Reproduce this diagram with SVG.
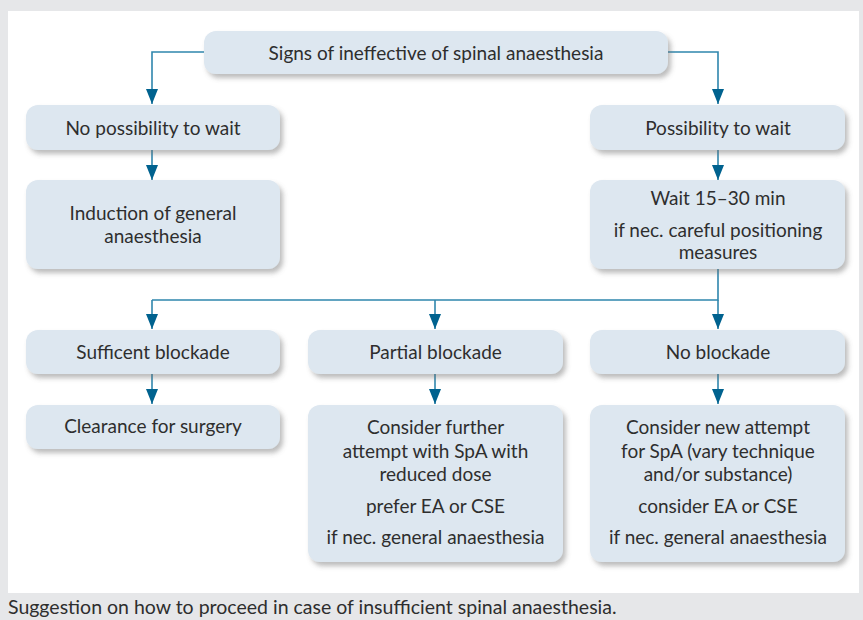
<svg xmlns="http://www.w3.org/2000/svg" width="863" height="620" viewBox="0 0 863 620">
<defs>
<filter id="sh" x="-10%" y="-20%" width="130%" height="150%">
<feDropShadow dx="3" dy="4" stdDeviation="2.5" flood-color="#6b6b6b" flood-opacity="0.45"/>
</filter>
<marker id="ah" markerWidth="15" markerHeight="12" refX="15" refY="6" orient="auto" markerUnits="userSpaceOnUse" viewBox="0 0 15 12">
<path d="M0,0 L15,6 L0,12 Z" fill="#00628f"/>
</marker>
<style>
.box{fill:#dde7f0;filter:url(#sh);}
.t{font-family:Lato,"Open Sans",sans-serif;font-size:19px;fill:#2e2e2e;text-anchor:middle;}
.c{fill:none;stroke:#2f86ad;stroke-width:1.6;}
.ca{fill:none;stroke:#2f86ad;stroke-width:1.6;marker-end:url(#ah);}
</style>
</defs>
<rect x="0" y="0" width="863" height="620" fill="#e6e7e9"/>
<rect x="8" y="11" width="851" height="582" fill="#ffffff"/>

<g id="connectors">
<path class="ca" d="M204,52 H152 V104"/>
<path class="ca" d="M668,52 H718 V104"/>
<path class="ca" d="M152,150 V180"/>
<path class="ca" d="M718,150 V180"/>
<path class="c" d="M718,269 V300 H152"/>
<path class="ca" d="M152,300 V329"/>
<path class="ca" d="M435,300 V329"/>
<path class="ca" d="M718,300 V329"/>
<path class="ca" d="M152,374 V404"/>
<path class="ca" d="M435,374 V404"/>
<path class="ca" d="M718,374 V404"/>
</g>

<g id="n-top">
<rect class="box" x="204" y="31" width="464" height="43" rx="12"/>
<text class="t" x="436" y="60">Signs of ineffective of spinal anaesthesia</text>
</g>
<g id="n-nowait">
<rect class="box" x="26" y="105" width="254" height="45" rx="12"/>
<text class="t" x="153" y="135">No possibility to wait</text>
</g>
<g id="n-wait">
<rect class="box" x="590" y="105" width="255" height="45" rx="12"/>
<text class="t" x="718" y="135">Possibility to wait</text>
</g>
<g id="n-induction">
<rect class="box" x="26" y="180" width="254" height="89" rx="12"/>
<text class="t" x="153" y="220">Induction of general</text>
<text class="t" x="153" y="243">anaesthesia</text>
</g>
<g id="n-wait15">
<rect class="box" x="590" y="180" width="255" height="89" rx="12"/>
<text class="t" x="718" y="205">Wait 15–30 min</text>
<text class="t" x="718" y="237">if nec. careful positioning</text>
<text class="t" x="718" y="259">measures</text>
</g>
<g id="n-sufficient">
<rect class="box" x="26" y="330" width="254" height="44" rx="12"/>
<text class="t" x="153" y="359">Sufficent blockade</text>
</g>
<g id="n-partial">
<rect class="box" x="308" y="330" width="255" height="44" rx="12"/>
<text class="t" x="435.5" y="359">Partial blockade</text>
</g>
<g id="n-noblock">
<rect class="box" x="590" y="330" width="255" height="44" rx="12"/>
<text class="t" x="718" y="359">No blockade</text>
</g>
<g id="n-clearance">
<rect class="box" x="26" y="405" width="254" height="44" rx="12"/>
<text class="t" x="153" y="433">Clearance for surgery</text>
</g>
<g id="n-further">
<rect class="box" x="308" y="405" width="255" height="157" rx="12"/>
<text class="t" x="435.5" y="434">Consider further</text>
<text class="t" x="435.5" y="458">attempt with SpA with</text>
<text class="t" x="435.5" y="481">reduced dose</text>
<text class="t" x="435.5" y="513">prefer EA or CSE</text>
<text class="t" x="435.5" y="544">if nec. general anaesthesia</text>
</g>
<g id="n-new">
<rect class="box" x="590" y="405" width="255" height="157" rx="12"/>
<text class="t" x="718" y="434">Consider new attempt</text>
<text class="t" x="718" y="458">for SpA (vary technique</text>
<text class="t" x="718" y="481">and/or substance)</text>
<text class="t" x="718" y="513">consider EA or CSE</text>
<text class="t" x="718" y="544">if nec. general anaesthesia</text>
</g>
<text x="8" y="614" style="font-family:Lato,'Open Sans',sans-serif;font-size:19.5px;fill:#2e2e2e;">Suggestion on how to proceed in case of insufficient spinal anaesthesia.</text>
</svg>
